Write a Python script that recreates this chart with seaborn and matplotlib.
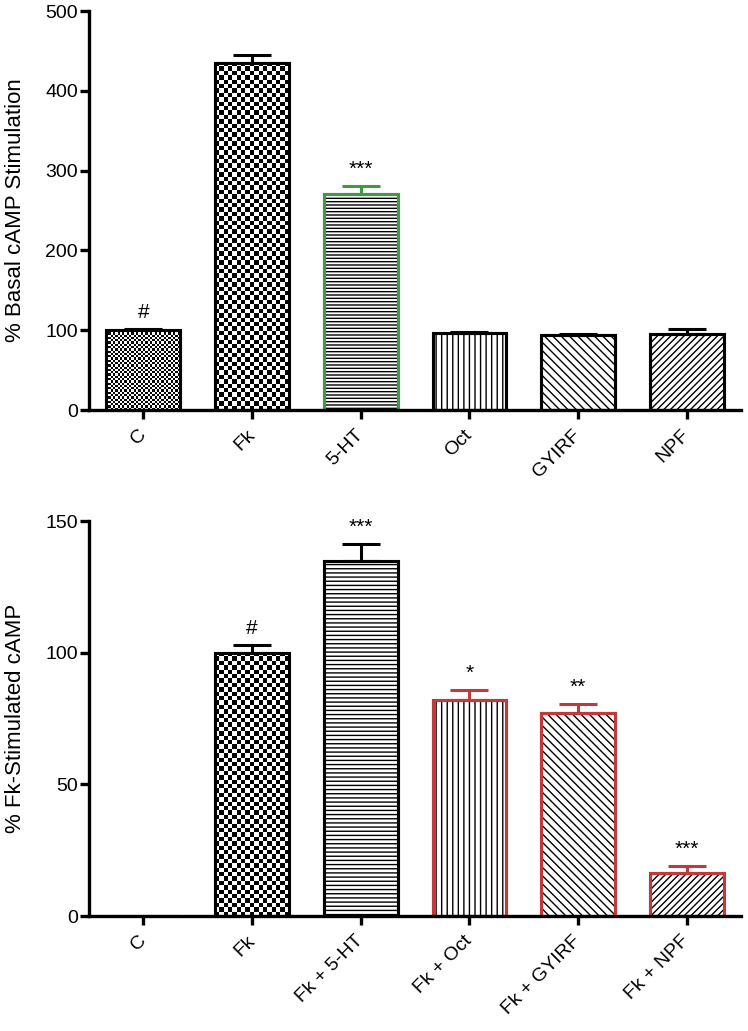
import numpy as np
import matplotlib
matplotlib.use("Agg")
import matplotlib.pyplot as plt
import seaborn as sns
from matplotlib.patches import Rectangle

# top panel: % basal cAMP stimulation
top_labels = ["C", "Fk", "5-HT", "Oct", "GYIRF", "NPF"]
top_means = [100, 435, 271, 96, 94, 95]
top_errs = [2, 10, 10, 1.5, 1, 7]
top_marks = ["#", "", "***", "", "", ""]

# bottom panel: % Fk-stimulated cAMP
bottom_labels = ["C", "Fk", "Fk + 5-HT", "Fk + Oct", "Fk + GYIRF", "Fk + NPF"]
bottom_means = [0, 100, 135, 82, 77, 16.5]
bottom_errs = [0, 3, 6.5, 4, 3.5, 2.5]
bottom_marks = ["", "#", "***", "*", "**", "***"]

GREEN = "#3f9b43"
RED = "#c0393b"
top_edges = ["black", "black", GREEN, "black", "black", "black"]
bottom_edges = ["black", "black", "black", RED, RED, RED]
top_fills = ["checker_fine", "checker", "-----", "|||", "\\\\\\\\", "/////"]
bottom_fills = [None, "checker", "----", "|||", "\\\\\\\\", "/////"]

sns.set_style("ticks", {"axes.edgecolor": "black", "text.color": "black",
                        "xtick.color": "black", "ytick.color": "black",
                        "axes.labelcolor": "black"})
plt.rcParams["font.family"] = ["Liberation Sans", "DejaVu Sans"]
plt.rcParams["hatch.linewidth"] = 1.0

LW = 2.2


def draw_panel(ax, labels, means, errs, marks, edges, fills, ymax, ystep, ylabel):
    sns.barplot(x=labels, y=means, ax=ax, color="white", edgecolor="black",
                linewidth=LW, width=0.68, errorbar=None, saturation=1)
    ax.set_xlim(-0.5, len(labels) - 0.5)
    ax.set_ylim(0, ymax)

    bars = list(ax.patches)
    for i, bar in enumerate(bars):
        fill = fills[i]
        x0, w, h = bar.get_x(), bar.get_width(), bar.get_height()
        if fill is not None and fill.startswith("checker"):
            # checkerboard texture clipped to the bar
            cell = 2.3 if fill == "checker_fine" else 4.4
            (px0, py0), (px1, py1) = ax.transData.transform([(x0, 0), (x0 + w, h)])
            nx = max(1, int(round((px1 - px0) / cell)))
            ny = max(1, int(round((py1 - py0) / cell)))
            pattern = np.add.outer(np.arange(ny), np.arange(nx)) % 2
            im = ax.imshow(pattern, cmap="gray", vmin=0, vmax=1,
                           extent=(x0, x0 + w, 0, h), origin="lower",
                           interpolation="nearest", aspect="auto",
                           zorder=bar.get_zorder() + 0.1)
            im.set_clip_path(bar)
        elif fill is not None:
            bar.set_hatch(fill)
        if h > 0:
            ax.add_patch(Rectangle((x0, 0), w, h, fill=False, edgecolor=edges[i],
                                   linewidth=LW, joinstyle="miter",
                                   zorder=bar.get_zorder() + 0.2))
            xc = x0 + w / 2
            ax.errorbar(xc, means[i], yerr=[[0], [errs[i]]], fmt="none",
                        ecolor=edges[i], elinewidth=LW, capsize=14,
                        capthick=LW, zorder=3)
            if marks[i]:
                ax.annotate(marks[i], (xc, means[i] + errs[i]), xytext=(0, 5),
                            textcoords="offset points", ha="center", va="bottom",
                            fontsize=15)

    ax.set_xlim(-0.5, len(labels) - 0.5)
    ax.set_ylim(0, ymax)
    ax.set_yticks(np.arange(0, ymax + 1, ystep))
    sns.despine(ax=ax)
    for side in ["left", "bottom"]:
        ax.spines[side].set_linewidth(2.4)
    ax.tick_params(axis="both", width=2.4, length=6.5, labelsize=14, color="black")
    ax.tick_params(axis="y", pad=1.5)
    ax.tick_params(axis="x", pad=9.5)
    for lab in ax.get_xticklabels():
        lab.set_rotation(45)
        lab.set_ha("right")
        lab.set_va("center")
        lab.set_rotation_mode("anchor")
    ax.set_ylabel(ylabel, fontsize=16)
    ax.yaxis.set_label_coords(-0.113, 0.5)
    ax.yaxis.label.set_va("center")
    ax.set_xlabel("")


fig = plt.figure(figsize=(7.48, 10.31), dpi=100)
ax1 = fig.add_axes([0.119, 0.6023, 0.872, 0.387])
ax2 = fig.add_axes([0.119, 0.1115, 0.872, 0.383])

draw_panel(ax1, top_labels, top_means, top_errs, top_marks, top_edges, top_fills,
           500, 100, "% Basal cAMP Stimulation")
draw_panel(ax2, bottom_labels, bottom_means, bottom_errs, bottom_marks, bottom_edges,
           bottom_fills, 150, 50, "% Fk-Stimulated cAMP")

fig.savefig("out.png", dpi=100)
